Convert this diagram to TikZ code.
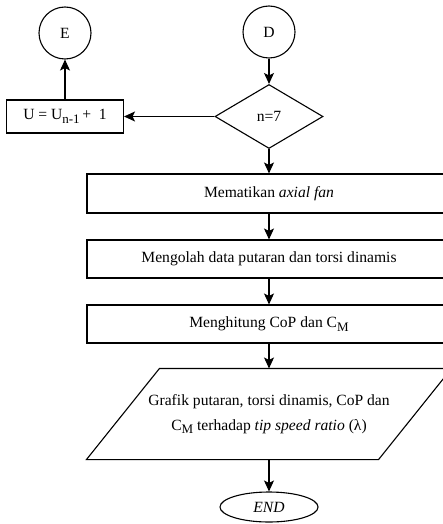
\documentclass[tikz,border=0pt]{standalone}
\usepackage{fontspec}
\setmainfont{Liberation Serif}
\usetikzlibrary{arrows.meta,shapes.geometric}
\newcommand{\lowsub}[1]{\raisebox{-0.55ex}{\fontsize{13}{13}\selectfont #1}}

\begin{document}
\begin{tikzpicture}[x=1pt,y=-1pt,
    font=\fontsize{15.6}{25}\selectfont,
    every node/.style={line width=1.1pt},
    conn/.style={circle,draw,minimum size=52pt,inner sep=0pt},
    box/.style={rectangle,draw,minimum width=364pt,minimum height=38pt,inner sep=0pt},
    flow/.style={line width=1.1pt,-{Stealth[length=11pt,width=10pt,inset=2.5pt]}}]
\useasboundingbox (0,0) rectangle (443,524);
\node[conn] (E) at (65,33) {E};
\node[conn] (D) at (269,32) {D};
\node[diamond,draw,minimum width=108pt,minimum height=64pt,inner sep=0pt] (cek) at (269,116.5) {n=7};
\node[draw,minimum width=117pt,minimum height=33pt,inner sep=0pt] (U) at (65,116.5) {U = U\lowsub{n-1}\,+\ \ 1};
\node[box,minimum height=39pt] (fan) at (269,193.5) {Mematikan \textit{axial fan}};
\node[box] (olah) at (269,259) {Mengolah data putaran dan torsi dinamis};
\node[box] (hitung) at (269,324) {Menghitung CoP dan C\lowsub{M}};
% parallelogram drawn round the text node
\node[minimum width=291pt,minimum height=90pt,inner sep=0pt,align=center] (graf) at (269,414)
    {Grafik putaran, torsi dinamis, CoP dan\\ C\lowsub{M} terhadap \textit{tip speed ratio} (λ)};
\draw[line width=1.1pt] ([xshift=-36.5pt]graf.south west) -- ([xshift=36.5pt]graf.north west)
    -- ([xshift=36.5pt]graf.north east) -- ([xshift=-36.5pt]graf.south east) -- cycle;
\node[ellipse,draw,minimum width=98pt,minimum height=30pt,inner sep=0pt] (end) at (269,507) {\textit{END}};
\draw[flow] (D) -- (cek);
\draw[flow] (cek) -- (U);
\draw[flow] (U) -- (E);
\draw[flow] (cek) -- (fan);
\draw[flow] (fan) -- (olah);
\draw[flow] (olah) -- (hitung);
\draw[flow] (hitung) -- (graf);
\draw[flow] (graf) -- (end);
\end{tikzpicture}
\end{document}
